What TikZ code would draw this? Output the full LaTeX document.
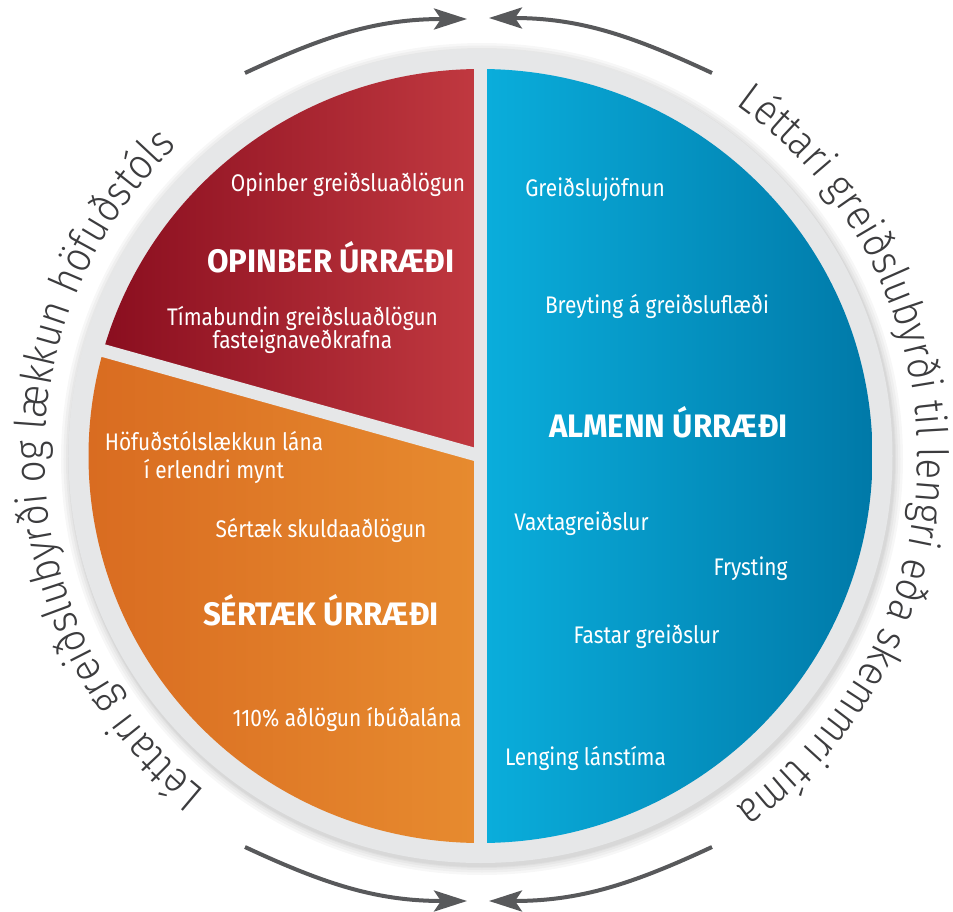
\documentclass[tikz,border=0pt]{standalone}
\usepackage{fontspec}
\usetikzlibrary{arrows.meta,decorations.text}
\newfontfamily\mainf{Fira Sans}[FakeStretch=0.87]
\newfontfamily\headf{Fira Sans}[FakeStretch=0.96]
\IfFontExistsTF{Fira Sans Light}{\newfontfamily\lightf{Fira Sans Light}[FakeStretch=0.9]}{\newfontfamily\lightf{Fira Sans}[FakeStretch=0.9]}
\newcommand\circf{\lightf\fontsize{43}{43}\selectfont}
\definecolor{redL}{RGB}{138,14,31}
\definecolor{redR}{RGB}{193,57,64}
\definecolor{orL}{RGB}{216,106,32}
\definecolor{orR}{RGB}{231,139,47}
\definecolor{blL}{RGB}{10,174,220}
\definecolor{blR}{RGB}{0,121,168}
\definecolor{ringc}{RGB}{230,231,232}
\definecolor{arrowc}{RGB}{88,89,91}
\definecolor{textg}{RGB}{60,60,62}
\tikzset{
  item/.style={anchor=base, text=white, inner sep=0pt, font=\mainf\fontsize{24}{28}\selectfont},
  head/.style={anchor=base, text=white, inner sep=0pt, font=\headf\bfseries\fontsize{32.5}{36}\selectfont},
  cyclearrow/.style={draw=arrowc, line width=4pt, -{Stealth[length=33pt,width=21pt,inset=7pt]}},
  gapline/.style={draw=ringc, line width=13pt},
}
\begin{document}
\begin{tikzpicture}[x=1pt,y=1pt]
\useasboundingbox (-480.5,-455) rectangle (472.5,456);
\fill[white] (-480.5,-455) rectangle (472.5,456);
\coordinate (C) at (0,0);
% soft shadow of the ring
\foreach \r/\s in {421pt/416pt,418.5pt/413.5pt,416pt/411pt,414pt/409pt,413pt/408pt}
  \fill[black,opacity=0.03] (1.5,-3) ellipse[x radius=\r, y radius=\s];
% ring
\fill[ringc] (C) ellipse[x radius=412pt, y radius=407pt];
% sectors
\shade[left color=blL, right color=blR] (C) -- (0,387) arc[start angle=90,end angle=-90,x radius=392pt,y radius=387pt] -- cycle;
\shade[left color=redL, right color=redR] (C) -- (0,387) arc[start angle=90,end angle=164.2,x radius=392pt,y radius=387pt] -- cycle;
\shade[left color=orL, right color=orR] (C) -- (164.2:392 and 387) arc[start angle=164.2,end angle=270,x radius=392pt,y radius=387pt] -- cycle;
% gaps
\coordinate (gT) at (0,398);
\coordinate (gB) at (0,-398);
\coordinate (gL) at (164.2:402 and 397);
\draw[gapline] (gT) -- (gB);
\draw[gapline] (C) -- (gL);
% red sector texts
\node[item] (o1) at (-132.5,264) {Opinber greiðsluaðlögun};
\node[head] (oh) at (-149.5,184) {OPINBER ÚRRÆÐI};
\node[item] (o2a) at (-178,131) {Tímabundin greiðsluaðlögun};
\node[item] (o2b) at (-178,108) {fasteignaveðkrafna};
% orange sector texts
\node[item] (s1a) at (-266.5,6) {Höfuðstólslækkun lána};
\node[item] (s1b) at (-266.5,-22) {í erlendri mynt};
\node[item] (s2) at (-159.5,-81) {Sértæk skuldaaðlögun};
\node[head] (sh) at (-159.5,-169) {SÉRTÆK ÚRRÆÐI};
\node[item] (s3) at (-133.5,-270) {110\% aðlögun íbúðalána};
% blue sector texts
\node[item] (a1) at (114.5,259) {Greiðslujöfnun};
\node[item] (a2) at (176.5,143) {Breyting á greiðsluflæði};
\node[head] (ah) at (188,19) {ALMENN ÚRRÆÐI};
\node[item] (a3) at (101,-74) {Vaxtagreiðslur};
\node[item] (a4) at (270,-119) {Frysting};
\node[item] (a5) at (166,-187) {Fastar greiðslur};
\node[item] (a6) at (105,-309) {Lenging lánstíma};
% curved texts
\path[decorate, decoration={text along path, text align=center, text color=textg,
  text={|\circf|Léttari greiðslubyrði og lækkun höfuðstóls}}]
  (240:436 and 432) arc[start angle=240,end angle=125,x radius=436pt,y radius=432pt];
\path[decorate, decoration={text along path, text align=center, text color=textg,
  text={|\circf|Léttari greiðslubyrði til lengri eða skemmri tíma}}]
  (64:437 and 433) arc[start angle=64,end angle=-64,x radius=437pt,y radius=433pt];
% cycle arrows
\coordinate (tlS) at (-235.5,383);
\coordinate (tlE) at (-13.5,437);
\coordinate (trS) at (231.5,383);
\coordinate (trE) at (8.5,438);
\coordinate (blS) at (-235.5,-391);
\coordinate (blE) at (-13.5,-445);
\coordinate (brS) at (231.5,-391);
\coordinate (brE) at (8.5,-445);
\draw[cyclearrow] (tlS) to[out=25,in=180] (tlE);
\draw[cyclearrow] (trS) to[out=155,in=0] (trE);
\draw[cyclearrow] (blS) to[out=-25,in=180] (blE);
\draw[cyclearrow] (brS) to[out=205,in=0] (brE);
\end{tikzpicture}
\end{document}
